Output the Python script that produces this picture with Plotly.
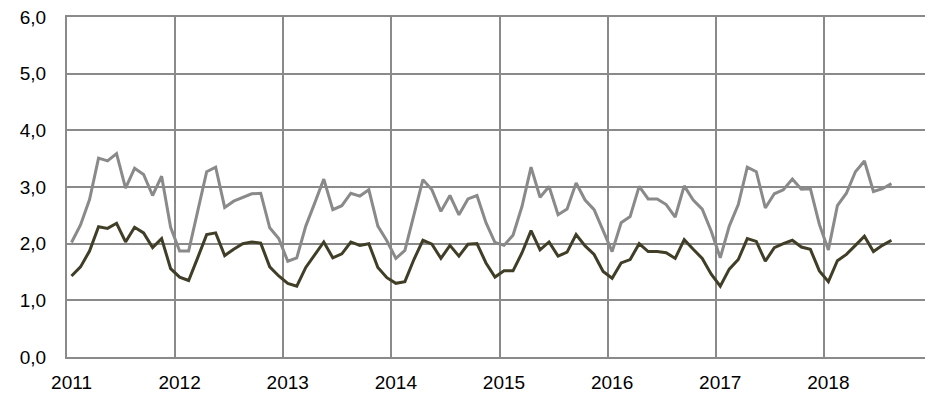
import plotly.graph_objects as go

# Monthly categories Jan 2011 .. Dec 2018 (axis), data through Aug 2018
months = [f"{y}-{m:02d}" for y in range(2011, 2019) for m in range(1, 13)]
year_ticks = [f"{y}-01" for y in range(2011, 2019)]
year_labels = [str(y) for y in range(2011, 2019)]

series_upper = [
    2.02, 2.33, 2.78, 3.51, 3.46, 3.59, 2.98, 3.33, 3.22, 2.85, 3.19, 2.29,
    1.87, 1.87, 2.57, 3.27, 3.35, 2.64, 2.75, 2.82, 2.88, 2.89, 2.28, 2.09,
    1.69, 1.75, 2.31, 2.72, 3.14, 2.60, 2.67, 2.89, 2.84, 2.95, 2.31, 2.05,
    1.74, 1.88, 2.48, 3.13, 2.95, 2.57, 2.85, 2.51, 2.79, 2.85, 2.37, 2.02,
    1.97, 2.15, 2.66, 3.35, 2.82, 3.01, 2.51, 2.61, 3.07, 2.77, 2.60, 2.23,
    1.86, 2.37, 2.48, 3.01, 2.79, 2.79, 2.69, 2.47, 3.02, 2.77, 2.61, 2.22,
    1.75, 2.31, 2.69, 3.35, 3.27, 2.63, 2.88, 2.95, 3.14, 2.96, 2.97, 2.34,
    1.89, 2.67, 2.89, 3.27, 3.46, 2.92, 2.97, 3.06,
]

series_lower = [
    1.43, 1.59, 1.87, 2.30, 2.27, 2.36, 2.03, 2.29, 2.19, 1.93, 2.09, 1.56,
    1.41, 1.35, 1.75, 2.16, 2.19, 1.79, 1.90, 2.00, 2.03, 2.01, 1.59, 1.43,
    1.30, 1.25, 1.58, 1.81, 2.03, 1.75, 1.82, 2.03, 1.97, 2.00, 1.58, 1.40,
    1.30, 1.33, 1.72, 2.06, 1.99, 1.74, 1.97, 1.78, 1.99, 2.00, 1.66, 1.41,
    1.52, 1.52, 1.84, 2.23, 1.89, 2.03, 1.78, 1.85, 2.16, 1.96, 1.81, 1.51,
    1.39, 1.66, 1.72, 2.00, 1.86, 1.86, 1.84, 1.74, 2.07, 1.90, 1.74, 1.46,
    1.25, 1.55, 1.72, 2.09, 2.04, 1.69, 1.93, 2.00, 2.06, 1.94, 1.90, 1.52,
    1.33, 1.70, 1.81, 1.97, 2.13, 1.86, 1.97, 2.06,
]

x_data = months[:len(series_upper)]
n_months = len(months)
# year boundaries (in month units) for the vertical gridlines
year_bounds = [12 * k for k in range(1, len(year_labels))]

GRID = "#8a8a8a"
font = dict(family="Liberation Sans, Arial, sans-serif", size=19, color="#000000")

fig = go.Figure()
# invisible helper trace to activate the boundary-grid axis
fig.add_trace(go.Scatter(x=[None], y=[None], xaxis="x2", yaxis="y",
                         mode="lines", showlegend=False, hoverinfo="skip"))
fig.add_trace(go.Scatter(x=x_data, y=series_upper, mode="lines",
                         line=dict(color="#8a8a8a", width=3), hoverinfo="skip"))
fig.add_trace(go.Scatter(x=x_data, y=series_lower, mode="lines",
                         line=dict(color="#403e27", width=3), hoverinfo="skip"))

fig.update_layout(
    width=925, height=386,
    margin=dict(l=59, r=1, t=9, b=37),
    paper_bgcolor="white", plot_bgcolor="white",
    showlegend=False,
    separators=", ",
    font=font,
    xaxis=dict(
        type="category",
        categoryorder="array", categoryarray=months,
        range=[-0.5, n_months - 0.5],
        tickmode="array", tickvals=year_ticks, ticktext=year_labels,
        tickangle=0, ticks="", showgrid=False,
        showline=True, linecolor=GRID, linewidth=2, mirror=True,
        zeroline=False, ticklabelstandoff=7, automargin=False,
        ticklabeloverflow="allow",
        tickfont=font,
    ),
    xaxis2=dict(
        type="linear", overlaying="x", anchor="y", side="bottom",
        range=[0, n_months],
        tickmode="array", tickvals=year_bounds,
        showticklabels=False, ticks="",
        showgrid=True, gridcolor=GRID, gridwidth=1.5,
        showline=False, zeroline=False, automargin=False,
    ),
    yaxis=dict(
        range=[0, 6], dtick=1, tick0=0, tickformat=".1f",
        showgrid=True, gridcolor=GRID, gridwidth=1.5,
        showline=True, linecolor=GRID, linewidth=2, mirror=True,
        zeroline=False, ticks="", ticklabelstandoff=15, automargin=False,
        ticklabeloverflow="allow",
        tickfont=font,
    ),
)

fig.write_html("out.html")
